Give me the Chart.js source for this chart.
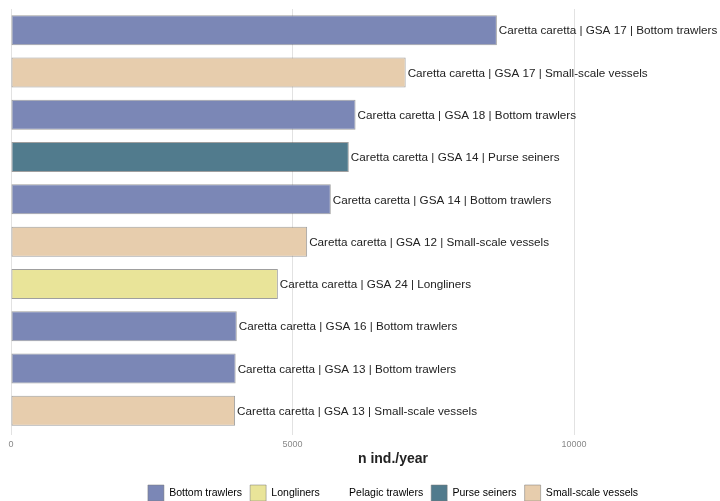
<!DOCTYPE html>
<html>
<head>
<meta charset="utf-8">
<script src="https://cdn.jsdelivr.net/npm/chart.js@4"></script>
<style>
  html, body { margin: 0; padding: 0; background: #fff; overflow: hidden; }
  #wrap { width: 775px; height: 511px; }
</style>
</head>
<body>
<div id="wrap"><canvas id="myChart"></canvas></div>
<script>
// data, top to bottom
var species = ["Caretta caretta", "Caretta caretta", "Caretta caretta", "Caretta caretta", "Caretta caretta",
               "Caretta caretta", "Caretta caretta", "Caretta caretta", "Caretta caretta", "Caretta caretta"];
var gsa = ["GSA 17", "GSA 17", "GSA 18", "GSA 14", "GSA 14", "GSA 12", "GSA 24", "GSA 16", "GSA 13", "GSA 13"];
var gear = ["Bottom trawlers", "Small-scale vessels", "Bottom trawlers", "Purse seiners", "Bottom trawlers",
            "Small-scale vessels", "Longliners", "Bottom trawlers", "Bottom trawlers", "Small-scale vessels"];
var values = [8630, 7010, 6120, 6000, 5680, 5260, 4740, 4010, 3990, 3980];

var gearNames = ["Bottom trawlers", "Longliners", "Pelagic trawlers", "Purse seiners", "Small-scale vessels"];
var gearColors = ["rgb(123,135,182)", "rgb(233,228,153)", "rgba(0,0,0,0)", "rgb(81,123,141)", "rgb(231,205,173)"];
var xTicks = [0, 5000, 10000];

var labels = species.map(function (s, i) { return s + " | " + gsa[i] + " | " + gear[i]; });
var barColors = gear.map(function (g) { return gearColors[gearNames.indexOf(g)]; });

var font = 'Arial, "Liberation Sans", sans-serif';

// text next to each bar
var barLabels = {
  id: 'barLabels',
  afterDatasetsDraw: function (chart) {
    var ctx = chart.ctx;
    var meta = chart.getDatasetMeta(0);
    ctx.save();
    ctx.font = '11.7px ' + font;
    ctx.fillStyle = '#222';
    ctx.textAlign = 'left';
    ctx.textBaseline = 'middle';
    meta.data.forEach(function (bar, i) {
      ctx.fillText(labels[i], bar.x + 2, bar.y + 1);
    });
    ctx.restore();
  }
};

var ctx = document.getElementById('myChart').getContext('2d');
var chart = new Chart(ctx, {
  type: 'bar',
  data: {
    labels: labels,
    datasets: [{
      data: values,
      backgroundColor: barColors,
      borderColor: 'rgba(80,80,80,0.55)',
      borderWidth: 1,
      borderSkipped: false,
      categoryPercentage: 1,
      barPercentage: 0.71
    }]
  },
  options: {
    indexAxis: 'y',
    responsive: true,
    maintainAspectRatio: false,
    animation: false,
    layout: { padding: { left: 11, right: 0, top: 9, bottom: 0 } },
    scales: {
      x: {
        min: 0,
        max: 13570,
        afterBuildTicks: function (axis) {
          axis.ticks = xTicks.map(function (v) { return { value: v }; });
        },
        afterFit: function (axis) { axis.height = 45; },
        grid: { color: '#e2e2e2', lineWidth: 1, drawTicks: true, tickLength: 3 },
        border: { display: false },
        ticks: {
          color: '#888',
          font: { size: 9, family: font },
          padding: 4,
          maxRotation: 0,
          callback: function (v) { return String(v); }
        },
        title: {
          display: true,
          text: 'n ind./year',
          color: '#222',
          font: { size: 14, weight: 'bold', family: font },
          padding: { top: 0, bottom: 9.6 }
        }
      },
      y: { display: false }
    },
    plugins: {
      tooltip: { enabled: false },
      legend: {
        position: 'bottom',
        labels: {
          boxWidth: 16,
          boxHeight: 16,
          padding: 8,
          color: '#222',
          font: { size: 10.5, family: font },
          generateLabels: function () {
            return gearNames.map(function (g, i) {
              return {
                text: g,
                fillStyle: gearColors[i],
                strokeStyle: i === 2 ? 'rgba(0,0,0,0)' : 'rgba(120,120,120,0.5)',
                lineWidth: 1,
                hidden: false,
                index: i
              };
            });
          }
        }
      }
    }
  },
  plugins: [barLabels]
});
</script>
</body>
</html>
